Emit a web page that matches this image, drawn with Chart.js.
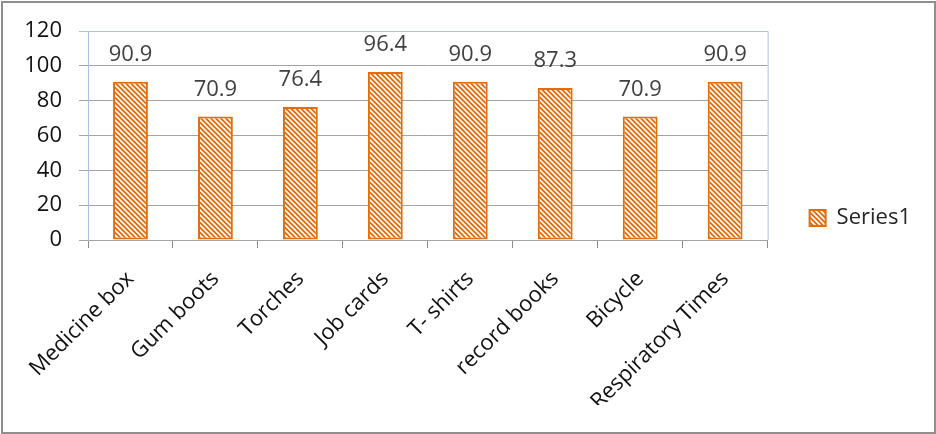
<!DOCTYPE html>
<html>
<head>
<meta charset="utf-8">
<script src="https://cdn.jsdelivr.net/npm/chart.js@4/dist/chart.umd.min.js"></script>
<style>
  html, body { margin: 0; padding: 0; background: #fff; }
  canvas { display: block; }
</style>
</head>
<body>
<canvas id="c" width="936" height="434"></canvas>
<script>
// Items and the percentage recorded for each
const categories = ['Medicine box', 'Gum boots', 'Torches', 'Job cards', 'T- shirts', 'record books', 'Bicycle', 'Respiratory Times'];
const series1 = [90.9, 70.9, 76.4, 96.4, 90.9, 87.3, 70.9, 90.9];
const yTicks = [0, 20, 40, 60, 80, 100, 120];

const ORANGE = '#E46C0A';
const GRID = '#a3a3a3';
const FRAME_BLUE = '#a9c0e3';
const FONT = "'Open Sans', 'DejaVu Sans', sans-serif";

// Orange fill with thin white diagonal stripes
function hatchPattern() {
  const s = 5;
  const c = document.createElement('canvas');
  c.width = s; c.height = s;
  const g = c.getContext('2d');
  g.fillStyle = ORANGE;
  g.fillRect(0, 0, s, s);
  g.strokeStyle = '#ffffff';
  g.lineWidth = 1.6;
  g.beginPath();
  g.moveTo(-1, -1); g.lineTo(s + 1, s + 1);
  g.moveTo(-1, s - 1); g.lineTo(1, s + 1);
  g.moveTo(s - 1, -1); g.lineTo(s + 1, 1);
  g.stroke();
  return g.createPattern(c, 'repeat');
}

// Outer frame plus the light blue plot-area outline
const framePlugin = {
  id: 'frame',
  beforeDraw(chart) {
    const { ctx } = chart;
    ctx.save();
    ctx.fillStyle = '#fff';
    ctx.fillRect(0, 0, chart.width, chart.height);
    ctx.restore();
  },
  afterDraw(chart) {
    const { ctx, chartArea: a } = chart;
    ctx.save();
    ctx.strokeStyle = FRAME_BLUE;
    ctx.lineWidth = 1;
    ctx.beginPath();
    ctx.moveTo(a.left + 0.5, a.bottom);
    ctx.lineTo(a.left + 0.5, a.top + 0.5);
    ctx.lineTo(a.right + 0.5, a.top + 0.5);
    ctx.lineTo(a.right + 0.5, a.bottom);
    ctx.stroke();
    ctx.strokeStyle = '#8f8f8f';
    ctx.lineWidth = 2;
    ctx.strokeRect(2, 2, chart.width - 3, chart.height - 3);
    ctx.restore();
  }
};

// Value written above each bar
const valueLabels = {
  id: 'valueLabels',
  afterDatasetsDraw(chart) {
    const { ctx } = chart;
    const meta = chart.getDatasetMeta(0);
    ctx.save();
    ctx.font = '22px ' + FONT;
    ctx.fillStyle = '#404040';
    ctx.textAlign = 'center';
    ctx.textBaseline = 'middle';
    meta.data.forEach((bar, i) => {
      ctx.fillText(series1[i].toFixed(1), bar.x, bar.y - 27);
    });
    ctx.restore();
  }
};

new Chart(document.getElementById('c'), {
  type: 'bar',
  data: {
    labels: categories,
    datasets: [{
      label: 'Series1',
      data: series1,
      backgroundColor: hatchPattern(),
      borderColor: ORANGE,
      borderWidth: 2,
      borderSkipped: false,
      categoryPercentage: 1,
      barPercentage: 0.41
    }]
  },
  options: {
    responsive: false,
    animation: false,
    devicePixelRatio: 1,
    layout: { padding: { top: 31, left: 4, bottom: 29, right: 15 } },
    plugins: {
      tooltip: { enabled: false },
      legend: {
        position: 'right',
        labels: {
          boxWidth: 16,
          boxHeight: 16,
          padding: 42,
          color: '#262626',
          font: { family: FONT, size: 22 }
        }
      }
    },
    scales: {
      x: {
        grid: {
          display: true,
          drawOnChartArea: false,
          drawTicks: true,
          tickLength: 8,
          color: '#8a8a8a'
        },
        border: { display: true, color: GRID, width: 1 },
        ticks: {
          minRotation: 45,
          maxRotation: 45,
          autoSkip: false,
          padding: 18,
          color: '#111',
          font: { family: FONT, size: 22 }
        },
        afterFit(scale) { scale.height = 434 - 240 - 29; }
      },
      y: {
        min: 0,
        max: 120,
        afterBuildTicks(scale) { scale.ticks = yTicks.map(v => ({ value: v })); },
        grid: {
          drawTicks: true,
          tickLength: 9,
          color: (c) => (c.tick && c.tick.value === 120 ? FRAME_BLUE : GRID)
        },
        border: { display: true, color: FRAME_BLUE, width: 1 },
        ticks: {
          padding: 17,
          color: '#111',
          font: { family: FONT, size: 22 }
        },
        afterFit(scale) { scale.width = 88 - 4; }
      }
    }
  },
  plugins: [framePlugin, valueLabels]
});
</script>
</body>
</html>
